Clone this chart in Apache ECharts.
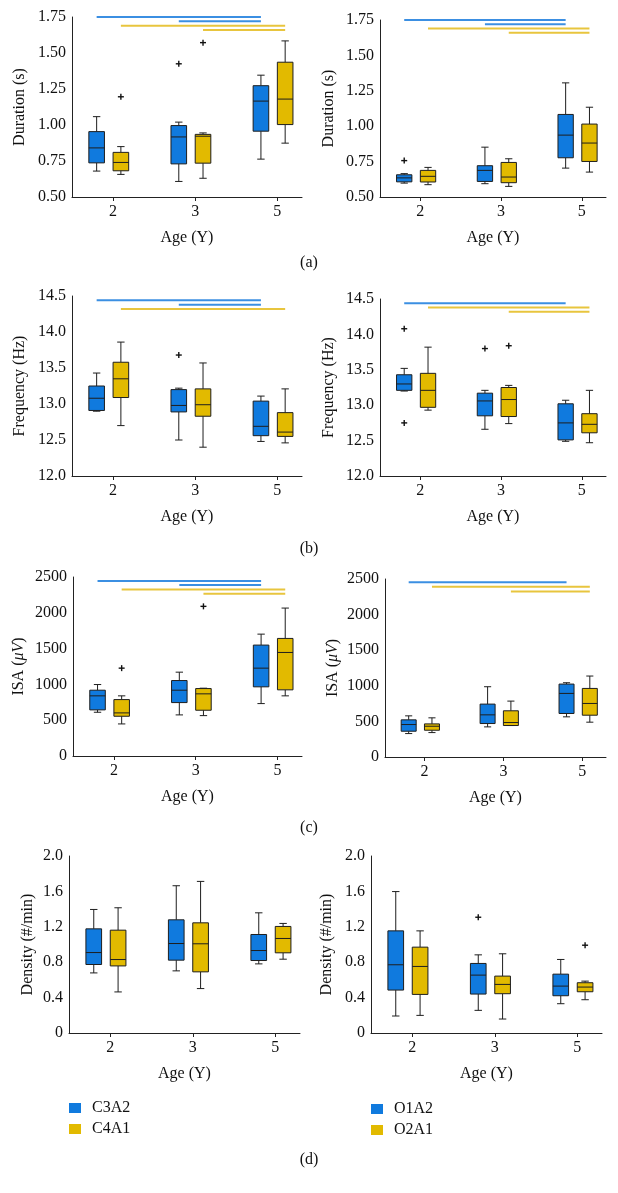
<!DOCTYPE html>
<html lang="en" style="height: 100%">
<head>
  <meta charset="utf-8">
</head>
<body style="height: 100%; margin: 0; background: #fff">
  <div id="container" style="width: 618px; height: 1193px"></div>
  <script type="text/javascript" src="https://fastly.jsdelivr.net/npm/echarts@6/dist/echarts.min.js"></script>
  <script type="text/javascript">
// ages on the x axis
var AGES = ['2', '3', '5'];

// box rows: [lower whisker, Q1, median, Q3, upper whisker] for ages 2, 3, 5
var durC3A2 = [[0.68, 0.737, 0.841, 0.954, 1.058], [0.608, 0.73, 0.917, 0.996, 1.02], [0.763, 0.957, 1.166, 1.273, 1.346]];
var durC4A1 = [[0.657, 0.682, 0.74, 0.81, 0.85], [0.63, 0.735, 0.922, 0.935, 0.945], [0.874, 1.003, 1.18, 1.436, 1.584]];
var durO1A2 = [[0.598, 0.607, 0.635, 0.657, 0.665], [0.594, 0.61, 0.688, 0.721, 0.852], [0.704, 0.777, 0.937, 1.083, 1.306]];
var durO2A1 = [[0.587, 0.606, 0.646, 0.688, 0.709], [0.575, 0.601, 0.641, 0.744, 0.77], [0.676, 0.751, 0.881, 1.015, 1.134]];

var freqC3A2 = [[12.9, 12.91, 13.08, 13.25, 13.43], [12.5, 12.89, 12.98, 13.2, 13.22], [12.48, 12.56, 12.69, 13.04, 13.11]];
var freqC4A1 = [[12.7, 13.09, 13.35, 13.58, 13.86], [12.4, 12.83, 12.99, 13.21, 13.57], [12.46, 12.55, 12.61, 12.88, 13.21]];
var freqO1A2 = [[13.2, 13.21, 13.3, 13.43, 13.52], [12.66, 12.85, 13.06, 13.17, 13.21], [12.49, 12.51, 12.75, 13.02, 13.07]];
var freqO2A1 = [[12.93, 12.97, 13.21, 13.45, 13.82], [12.74, 12.84, 13.08, 13.25, 13.28], [12.47, 12.61, 12.73, 12.88, 13.21]];

var isaC3A2 = [[611, 644, 840, 919, 998], [574, 746, 919, 1054, 1171], [732, 966, 1227, 1549, 1702]];
var isaC4A1 = [[448, 555, 602, 788, 840], [564, 639, 868, 942, 947], [840, 924, 1446, 1642, 2066]];
var isaO1A2 = [[329, 362, 456, 522, 578], [423, 470, 592, 743, 987], [564, 611, 893, 1024, 1043]];
var isaO2A1 = [[343, 376, 432, 465, 550], [442, 442, 484, 649, 785], [489, 587, 752, 963, 1137]];

var denC3A2 = [[0.679, 0.774, 0.909, 1.177, 1.396], [0.702, 0.823, 1.011, 1.279, 1.664], [0.781, 0.819, 0.932, 1.113, 1.358]];
var denC4A1 = [[0.464, 0.758, 0.83, 1.162, 1.415], [0.502, 0.691, 1.008, 1.245, 1.713], [0.834, 0.906, 1.068, 1.204, 1.238]];
var denO1A2 = [[0.192, 0.485, 0.771, 1.154, 1.598], [0.256, 0.44, 0.654, 0.786, 0.883], [0.331, 0.421, 0.53, 0.665, 0.831]];
var denO2A1 = [[0.199, 0.436, 0.752, 0.97, 1.154], [0.158, 0.444, 0.549, 0.643, 0.895], [0.376, 0.466, 0.519, 0.568, 0.586]];

// outliers: [age index, value]
var durC3A2Out = [[1, 1.425]];
var durC4A1Out = [[0, 1.196], [1, 1.572]];
var durO1A2Out = [[0, 0.757]];
var durO2A1Out = [];
var freqC3A2Out = [[1, 13.68]];
var freqC4A1Out = [];
var freqO1A2Out = [[0, 14.08], [0, 12.75], [1, 13.8]];
var freqO2A1Out = [[1, 13.84]];
var isaC3A2Out = [];
var isaC4A1Out = [[0, 1227], [1, 2090]];
var isaO1A2Out = [];
var isaO2A1Out = [];
var denC3A2Out = [];
var denC4A1Out = [];
var denO1A2Out = [[1, 1.308]];
var denO2A1Out = [[2, 0.992]];

// significance bars: [from age index, to age index, y value, 0 = blue / 1 = yellow]
var durLeftSig = [[0, 2, 1.75, 0], [1, 2, 1.72, 0], [0, 2, 1.69, 1], [1, 2, 1.66, 1]];
var durRightSig = [[0, 2, 1.75, 0], [1, 2, 1.72, 0], [0, 2, 1.69, 1], [1, 2, 1.66, 1]];
var freqLeftSig = [[0, 2, 14.44, 0], [1, 2, 14.38, 0], [0, 2, 14.32, 1]];
var freqRightSig = [[0, 2, 14.44, 0], [0, 2, 14.38, 1], [1, 2, 14.32, 1]];
var isaLeftSig = [[0, 2, 2444, 0], [1, 2, 2388, 0], [0, 2, 2327, 1], [1, 2, 2267, 1]];
var isaRightSig = [[0, 2, 2453, 0], [0, 2, 2392, 1], [1, 2, 2326, 1]];
var denLeftSig = [];
var denRightSig = [];

var FONT = 'Liberation Serif';
var BLUE = '#107ade';
var YELLOW = '#e2ba00';
var SIG_COLORS = ['#3b8fe2', '#e8c53e'];
var OFFSETS = [-0.2, 0.095];
var BOX_W = 0.19;
var CAP_W = 0.09;

var panels = [
  { grid: { left: 72, top: 17, width: 230, height: 180 }, y: [0.5, 1.75, 0.25], dec: 2, name: 'Duration (s)', gap: 44, boxes: [durC3A2, durC4A1], out: [durC3A2Out, durC4A1Out], sig: durLeftSig, names: ['C3A2', 'C4A1'] },
  { grid: { left: 380, top: 20, width: 226, height: 177 }, y: [0.5, 1.75, 0.25], dec: 2, name: 'Duration (s)', gap: 43, boxes: [durO1A2, durO2A1], out: [durO1A2Out, durO2A1Out], sig: durRightSig, names: ['O1A2', 'O2A1'] },
  { grid: { left: 72, top: 296, width: 230, height: 180 }, y: [12, 14.5, 0.5], dec: 1, name: 'Frequency (Hz)', gap: 44, boxes: [freqC3A2, freqC4A1], out: [freqC3A2Out, freqC4A1Out], sig: freqLeftSig, names: ['C3A2', 'C4A1'] },
  { grid: { left: 380, top: 299, width: 226, height: 177 }, y: [12, 14.5, 0.5], dec: 1, name: 'Frequency (Hz)', gap: 43, boxes: [freqO1A2, freqO2A1], out: [freqO1A2Out, freqO2A1Out], sig: freqRightSig, names: ['O1A2', 'O2A1'] },
  { grid: { left: 73, top: 577, width: 229, height: 179 }, y: [0, 2500, 500], dec: 0, name: 'ISA ({i|μV})', gap: 46, boxes: [isaC3A2, isaC4A1], out: [isaC3A2Out, isaC4A1Out], sig: isaLeftSig, names: ['C3A2', 'C4A1'] },
  { grid: { left: 385, top: 579, width: 221, height: 178 }, y: [0, 2500, 500], dec: 0, name: 'ISA ({i|μV})', gap: 44, boxes: [isaO1A2, isaO2A1], out: [isaO1A2Out, isaO2A1Out], sig: isaRightSig, names: ['O1A2', 'O2A1'] },
  { grid: { left: 69, top: 856, width: 231, height: 177 }, y: [0, 2, 0.4], dec: 1, name: 'Density (#/min)', gap: 33, boxes: [denC3A2, denC4A1], out: [denC3A2Out, denC4A1Out], sig: denLeftSig, names: ['C3A2', 'C4A1'] },
  { grid: { left: 371, top: 856, width: 231, height: 177 }, y: [0, 2, 0.4], dec: 1, name: 'Density (#/min)', gap: 36, boxes: [denO1A2, denO2A1], out: [denO1A2Out, denO2A1Out], sig: denRightSig, names: ['O1A2', 'O2A1'] }
];

function boxRender(offset) {
  return function (params, api) {
    var x = api.value(0) + offset;
    var lo = api.coord([x, api.value(1)]);
    var q1 = api.coord([x, api.value(2)]);
    var md = api.coord([x, api.value(3)]);
    var q3 = api.coord([x, api.value(4)]);
    var hi = api.coord([x, api.value(5)]);
    var bw = api.size([BOX_W, 0])[0];
    var cw = api.size([CAP_W, 0])[0];
    var cx = lo[0];
    var ln = { stroke: '#1e1e1e', lineWidth: 1 };
    return {
      type: 'group',
      children: [
        { type: 'line', shape: { x1: cx, y1: hi[1], x2: cx, y2: q3[1] }, style: ln },
        { type: 'line', shape: { x1: cx, y1: q1[1], x2: cx, y2: lo[1] }, style: ln },
        { type: 'line', shape: { x1: cx - cw / 2, y1: hi[1], x2: cx + cw / 2, y2: hi[1] }, style: ln },
        { type: 'line', shape: { x1: cx - cw / 2, y1: lo[1], x2: cx + cw / 2, y2: lo[1] }, style: ln },
        { type: 'rect', shape: { x: cx - bw / 2, y: q3[1], width: bw, height: q1[1] - q3[1] },
          style: { fill: api.visual('color'), stroke: '#1e1e1e', lineWidth: 1 } },
        { type: 'line', shape: { x1: cx - bw / 2, y1: md[1], x2: cx + bw / 2, y2: md[1] }, style: ln }
      ]
    };
  };
}

function outlierRender(offset) {
  return function (params, api) {
    var p = api.coord([api.value(0) + offset, api.value(1)]);
    var r = 3;
    var ln = { stroke: '#111', lineWidth: 1.4 };
    return {
      type: 'group',
      children: [
        { type: 'line', shape: { x1: p[0] - r, y1: p[1], x2: p[0] + r, y2: p[1] }, style: ln },
        { type: 'line', shape: { x1: p[0], y1: p[1] - r, x2: p[0], y2: p[1] + r }, style: ln }
      ]
    };
  };
}

function sigRender(params, api) {
  var k = api.value(3);
  var a = api.coord([api.value(0) + OFFSETS[k], api.value(2)]);
  var b = api.coord([api.value(1) + OFFSETS[k], api.value(2)]);
  return {
    type: 'line',
    shape: { x1: a[0], y1: a[1], x2: b[0], y2: b[1] },
    style: { stroke: SIG_COLORS[k], lineWidth: 2 }
  };
}

var grids = [], xAxes = [], yAxes = [], series = [];
panels.forEach(function (p, i) {
  grids.push(p.grid);
  xAxes.push({
    gridIndex: i, type: 'value', min: -0.5, max: 2.3,
    name: 'Age (Y)', nameLocation: 'middle', nameGap: 33,
    nameTextStyle: { fontFamily: FONT, fontSize: 16, color: '#111' },
    axisLine: { onZero: false, lineStyle: { color: '#222', width: 1 } },
    axisTick: { show: true, customValues: [0, 1, 2], length: 4, lineStyle: { color: '#222' } },
    axisLabel: {
      customValues: [0, 1, 2], margin: 7,
      fontFamily: FONT, fontSize: 16, color: '#111',
      formatter: function (v) { return AGES[Math.round(v)]; }
    },
    splitLine: { show: false }
  });
  yAxes.push({
    gridIndex: i, type: 'value', min: p.y[0], max: p.y[1], interval: p.y[2],
    name: p.name, nameLocation: 'middle', nameGap: p.gap,
    nameTextStyle: { fontFamily: FONT, fontSize: 16, color: '#111', rich: { i: { fontFamily: FONT, fontSize: 16, fontStyle: 'italic', color: '#111' } } },
    axisLine: { show: true, onZero: false, lineStyle: { color: '#222', width: 1 } },
    axisTick: { show: false },
    axisLabel: {
      margin: 6, fontFamily: FONT, fontSize: 16, color: '#111',
      formatter: function (v) { return v === 0 ? '0' : v.toFixed(p.dec); }
    },
    splitLine: { show: false }
  });
  [0, 1].forEach(function (k) {
    series.push({
      type: 'custom', name: p.names[k], xAxisIndex: i, yAxisIndex: i,
      itemStyle: { color: k === 0 ? BLUE : YELLOW },
      renderItem: boxRender(OFFSETS[k]),
      encode: { x: 0, y: [1, 2, 3, 4, 5] },
      data: p.boxes[k].map(function (r, j) { return [j].concat(r); }),
      silent: true
    });
    series.push({
      type: 'custom', name: p.names[k], xAxisIndex: i, yAxisIndex: i,
      itemStyle: { color: k === 0 ? BLUE : YELLOW },
      renderItem: outlierRender(OFFSETS[k]),
      encode: { x: 0, y: 1 },
      data: p.out[k],
      silent: true
    });
  });
  series.push({
    type: 'custom', xAxisIndex: i, yAxisIndex: i,
    renderItem: sigRender,
    encode: { x: [0, 1], y: 2 },
    data: p.sig,
    silent: true
  });
});

var legendBase = {
  orient: 'vertical', icon: 'rect', itemWidth: 12, itemHeight: 10, itemGap: 5, padding: 0,
  selectedMode: false,
  itemStyle: { borderWidth: 0 },
  textStyle: { fontFamily: FONT, fontSize: 16, color: '#111', padding: [0, 0, 0, 6] }
};

var letterStyle = { fontFamily: FONT, fontSize: 16, fill: '#111', textAlign: 'center', textVerticalAlign: 'middle' };
var letters = [['(a)', 263], ['(b)', 549], ['(c)', 828], ['(d)', 1160]];

var dom = document.getElementById('container');
var myChart = echarts.init(dom, null, { renderer: 'canvas' });
myChart.setOption({
  backgroundColor: '#fff',
  animation: false,
  grid: grids,
  xAxis: xAxes,
  yAxis: yAxes,
  legend: [
    Object.assign({}, legendBase, { left: 69, top: 1100, data: ['C3A2', 'C4A1'] }),
    Object.assign({}, legendBase, { left: 371, top: 1101, data: ['O1A2', 'O2A1'] })
  ],
  graphic: letters.map(function (l) {
    return { type: 'text', x: 309, y: l[1], style: Object.assign({ text: l[0] }, letterStyle) };
  }),
  series: series
});
window.addEventListener('resize', myChart.resize);
  </script>
</body>
</html>
